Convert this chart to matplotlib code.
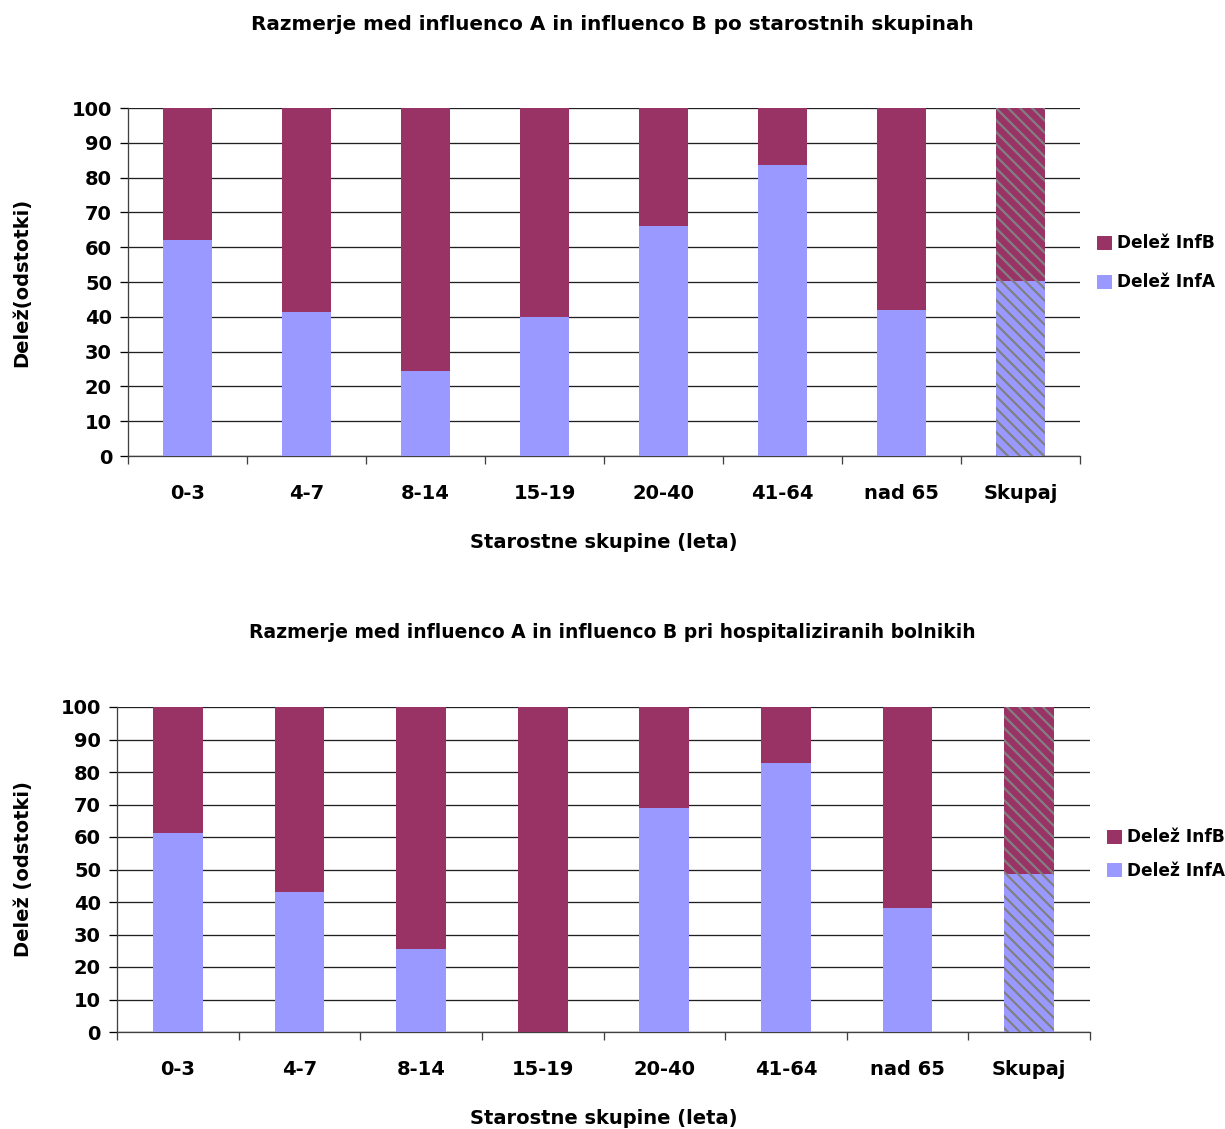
import numpy as np
import matplotlib
matplotlib.use("Agg")
import matplotlib.pyplot as plt
from matplotlib.patches import Patch

categories = ['0-3', '4-7', '8-14', '15-19', '20-40', '41-64', 'nad 65', 'Skupaj']

# top chart: all patients (share of influenza A, %)
infA_all = [62, 41.5, 24.5, 40, 66, 83.5, 42, 50.2]
# bottom chart: hospitalised patients (share of influenza A, %)
infA_hosp = [61.2, 43, 25.5, 0, 69, 82.8, 38.2, 48.6]

color_a = '#9999ff'
color_b = '#993366'

# drawn at 72 dpi so that 1 pt == 1 px
DPI = 72
plt.rcParams['font.family'] = 'DejaVu Sans'
plt.rcParams['font.weight'] = 'bold'
plt.rcParams['hatch.color'] = '#808080'
plt.rcParams['hatch.linewidth'] = 2.2

fig = plt.figure(figsize=(1225 / DPI, 1129 / DPI), dpi=DPI)


def draw(ax, infA, title, title_size, ylabel, title_y, legend_y, legend_sp,
         bar_w, ylab_pad, xlab_pad):
    x = np.arange(len(categories))
    infA = np.array(infA)
    infB = 100 - infA
    n = len(categories)
    hatches = [None] * (n - 1) + ['\\\\']
    for i in range(n):
        ax.bar(x[i], infA[i], width=bar_w, color=color_a, hatch=hatches[i],
               linewidth=0, zorder=3)
        ax.bar(x[i], infB[i], bottom=infA[i], width=bar_w, color=color_b,
               hatch=hatches[i], linewidth=0, zorder=3)
    ax.set_ylim(0, 100)
    ax.set_xlim(-0.5, n - 0.5)
    ax.set_yticks(range(0, 101, 10))
    ax.yaxis.grid(True, color='#202020', linewidth=1.3, zorder=0)
    ax.set_axisbelow(True)
    ax.set_xticks(np.arange(-0.5, n, 1.0))
    ax.set_xticklabels([])
    ax.set_xticks(x, minor=True)
    ax.set_xticklabels(categories, minor=True, fontsize=19.5, fontweight='bold')
    ax.tick_params(axis='x', which='minor', length=0, pad=28)
    ax.tick_params(axis='x', which='major', length=8, width=1.3, color='#404040')
    ax.tick_params(axis='y', length=8, width=1.3, labelsize=19.5, pad=8)
    for t in ax.get_yticklabels():
        t.set_fontweight('bold')
    ax.spines['top'].set_visible(False)
    ax.spines['right'].set_visible(False)
    for s in ('left', 'bottom'):
        ax.spines[s].set_color('#404040')
        ax.spines[s].set_linewidth(1.3)
    ax.set_xlabel('Starostne skupine (leta)', fontsize=19.5, fontweight='bold', labelpad=xlab_pad)
    ax.set_ylabel(ylabel, fontsize=19.5, fontweight='bold', labelpad=ylab_pad)
    fig.text(0.5, title_y, title, ha='center', va='center', fontsize=title_size, fontweight='bold')
    handles = [Patch(color=color_b), Patch(color=color_a)]
    ax.legend(handles, ['Delež InfB', 'Delež InfA'], loc='center left',
              bbox_to_anchor=(1.0, legend_y), frameon=False,
              handlelength=0.85, handleheight=0.85, handletextpad=0.35,
              labelspacing=legend_sp, borderaxespad=0.6,
              prop={'weight': 'bold', 'size': 17})


ax1 = fig.add_axes([128 / 1225, 1 - 456 / 1129, 952 / 1225, 348 / 1129])
draw(ax1, infA_all, 'Razmerje med influenco A in influenco B po starostnih skupinah', 20,
     'Delež(odstotki)', 1 - 25 / 1129, 0.555, 1.25, 0.42, 40, 30)

ax2 = fig.add_axes([117 / 1225, 1 - 1032 / 1129, 973 / 1225, 325 / 1129])
draw(ax2, infA_hosp, 'Razmerje med influenco A in influenco B pri hospitaliziranih bolnikih', 18.8,
     'Delež (odstotki)', 1 - 632 / 1129, 0.548, 0.9, 0.41, 28, 30)

fig.savefig('out.png', dpi=DPI)
